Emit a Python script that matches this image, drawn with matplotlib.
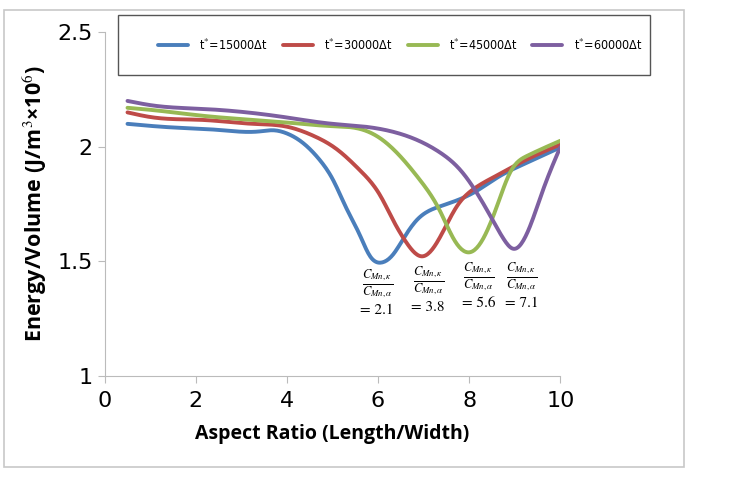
import numpy as np
import matplotlib.pyplot as plt
from matplotlib.patches import Rectangle

# data
x15 = [0.5, 1.43, 2.53, 3.4, 3.7, 4.0, 4.29, 4.73, 5.0, 5.31, 5.6, 5.82, 6.08, 6.33, 6.56, 6.85, 7.36, 8.1, 8.68, 9.12, 10]
y15 = [2.10, 2.085, 2.073, 2.067, 2.072, 2.058, 2.026, 1.94, 1.86, 1.73, 1.615, 1.524, 1.495, 1.53, 1.60, 1.68, 1.74, 1.80, 1.873, 1.917, 1.997]
x30 = [0.5, 1.06, 2.16, 3.26, 3.99, 4.58, 5.09, 5.6, 6.04, 6.33, 6.63, 6.96, 7.2, 7.4, 7.73, 8.1, 8.61, 9.12, 10]
y30 = [2.15, 2.128, 2.117, 2.10, 2.088, 2.048, 1.99, 1.898, 1.79, 1.68, 1.58, 1.522, 1.555, 1.62, 1.74, 1.816, 1.875, 1.93, 2.01]
x45 = [0.5, 1.06, 2.16, 3.99, 5.0, 5.6, 6.04, 6.48, 6.92, 7.36, 7.66, 8.02, 8.31, 8.64, 8.9, 9.27, 10]
y45 = [2.17, 2.16, 2.135, 2.106, 2.09, 2.078, 2.038, 1.96, 1.855, 1.72, 1.598, 1.54, 1.60, 1.757, 1.888, 1.96, 2.026]
x60 = [0.5, 1.06, 2.16, 3.99, 5.0, 5.6, 6.48, 7.36, 7.8, 8.1, 8.46, 8.75, 8.97, 9.34, 9.63, 10]
y60 = [2.20, 2.18, 2.165, 2.128, 2.10, 2.09, 2.057, 1.975, 1.90, 1.82, 1.70, 1.60, 1.555, 1.655, 1.816, 1.998]

labels = ["t$^{*}$=15000\u0394t", "t$^{*}$=30000\u0394t", "t$^{*}$=45000\u0394t", "t$^{*}$=60000\u0394t"]
colors = ["#4a7ebb", "#be4b48", "#98b954", "#7d5fa0"]
ratios = ["2.1", "3.8", "5.6", "7.1"]
ratio_x = [5.98, 7.1, 8.2, 9.15]
ratio_y = [1.40, 1.415, 1.43, 1.43]

plt.rcParams["mathtext.fontset"] = "stix"


def smooth(xs, ys, n=400):
    # natural cubic spline through the read points (the original is an excel smoothed line)
    x = np.asarray(xs, float); y = np.asarray(ys, float)
    h = np.diff(x)
    m = len(x)
    A = np.zeros((m, m)); b = np.zeros(m)
    A[0, 0] = A[-1, -1] = 1
    for i in range(1, m - 1):
        A[i, i-1] = h[i-1]; A[i, i] = 2*(h[i-1] + h[i]); A[i, i+1] = h[i]
        b[i] = 6*((y[i+1] - y[i])/h[i] - (y[i] - y[i-1])/h[i-1])
    M = np.linalg.solve(A, b)
    xx = np.linspace(x[0], x[-1], n)
    k = np.clip(np.searchsorted(x, xx) - 1, 0, m - 2)
    dx = xx - x[k]; hk = h[k]
    yy = (M[k]*(x[k+1] - xx)**3/(6*hk) + M[k+1]*dx**3/(6*hk)
          + (y[k]/hk - M[k]*hk/6)*(x[k+1] - xx) + (y[k+1]/hk - M[k+1]*hk/6)*dx)
    return xx, yy


fig = plt.figure(figsize=(7.48, 4.8), dpi=100)
fig.patches.append(Rectangle((4/748, 1-467/480), 680/748, 457/480, transform=fig.transFigure,
                             fill=False, edgecolor="#c8c8c8", lw=1.2))
fig.patches.append(Rectangle((118/748, 1-75/480), 532/748, 60/480, transform=fig.transFigure,
                             fill=False, edgecolor="#555555", lw=1))

ax = fig.add_axes([0.140, 0.2167, 0.609, 0.7163])
for xs, ys, c, lab in zip([x15, x30, x45, x60], [y15, y30, y45, y60], colors, labels):
    sx, sy = smooth(xs, ys)
    ax.plot(sx, sy, color=c, lw=2.8, label=lab, solid_capstyle="round")

for rx, ry, r in zip(ratio_x, ratio_y, ratios):
    ax.text(rx, ry, r"$\frac{C_{Mn,\kappa}}{C_{Mn,\alpha}}$", ha="center", va="center", fontsize=13)
    ax.text(rx, ry - 0.115, "= " + r, ha="center", va="center", fontsize=11, family="STIXGeneral")

ax.set_xlim(0, 10)
ax.set_ylim(1, 2.5)
ax.set_xticks([0, 2, 4, 6, 8, 10])
ax.set_yticks([1, 1.5, 2, 2.5])
ax.set_yticklabels(["1", "1.5", "2", "2.5"])
for s in ["top", "right"]:
    ax.spines[s].set_visible(False)
ax.spines["left"].set_color("#bbbbbb")
ax.spines["bottom"].set_color("#bbbbbb")
ax.tick_params(axis="both", colors="#bbbbbb", labelcolor="black", labelsize=16, length=5)
ax.tick_params(axis="x", pad=6)
ax.set_xlabel("Aspect Ratio (Length/Width)", fontsize=14, fontweight="bold", family="Open Sans", labelpad=9)
ax.set_ylabel("Energy/Volume (J/m$^3$\u00d710$^6$)", fontsize=15.5, fontweight="bold", family="Open Sans", labelpad=6)

fig.legend(loc="center", bbox_to_anchor=(400/748, 1-45/480), ncol=4, frameon=False,
           prop={"family": "DejaVu Sans", "stretch": "condensed", "size": 9},
           handlelength=2.4, columnspacing=1.2, handletextpad=0.9)

plt.savefig("out.png", dpi=100)
